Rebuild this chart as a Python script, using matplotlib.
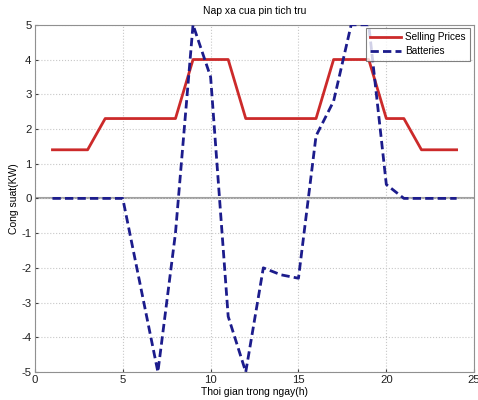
import matplotlib
matplotlib.use("Agg")
import matplotlib.pyplot as plt

hours = list(range(1, 25))
selling_prices = [1.4, 1.4, 1.4, 2.3, 2.3, 2.3, 2.3, 2.3, 4, 4, 4, 2.3,
                  2.3, 2.3, 2.3, 2.3, 4, 4, 4, 2.3, 2.3, 1.4, 1.4, 1.4]
batteries = [0, 0, 0, 0, 0, -2.5, -5, -1, 5, 3.5, -3.4, -5,
             -2, -2.2, -2.3, 1.8, 2.8, 5, 5, 0.4, 0, 0, 0, 0]

plt.rcParams['font.family'] = ['Liberation Sans', 'DejaVu Sans']
plt.rcParams['axes.unicode_minus'] = False

fig = plt.figure(figsize=(4.78, 4.0), dpi=100)
ax = fig.add_axes([0.073, 0.07, 0.919, 0.868])

ax.axhline(0, color='#a0a0a0', lw=1.5, zorder=1)
ax.plot(hours, selling_prices, color='#cc2a2a', lw=2, label='Selling Prices', zorder=3)
ax.plot(hours, batteries, color='#1c1c8c', lw=2, ls=(0, (3, 1.5)), label='Batteries', zorder=4)

ax.set_xlim(0, 25)
ax.set_ylim(-5, 5)
ax.set_xticks([0, 5, 10, 15, 20, 25])
ax.set_yticks([-5, -4, -3, -2, -1, 0, 1, 2, 3, 4, 5])
ax.grid(True, color='#c8c8c8', ls=':', lw=0.8)
for s in ax.spines.values():
    s.set_color('#909090')
ax.tick_params(labelsize=8.2, colors='#404040', length=2, direction='in', pad=2.5)
for lbl in ax.get_xticklabels() + ax.get_yticklabels():
    lbl.set_color('#202020')

ax.set_title('Nap xa cua pin tich tru', fontsize=7.5, pad=8)
ax.set_xlabel('Thoi gian trong ngay(h)', fontsize=7.5, labelpad=1)
ax.set_ylabel('Cong suat(KW)', fontsize=7.5, labelpad=2)

leg = ax.legend(loc='upper right', fontsize=7.2, frameon=True, fancybox=False,
                bbox_to_anchor=(0.991, 0.991), borderaxespad=0.0,
                handlelength=3.1, handletextpad=0.4,
                labelspacing=0.4, borderpad=0.45)
leg.get_frame().set_edgecolor('#606060')
leg.get_frame().set_linewidth(0.8)

fig.savefig('out.png', dpi=100)
